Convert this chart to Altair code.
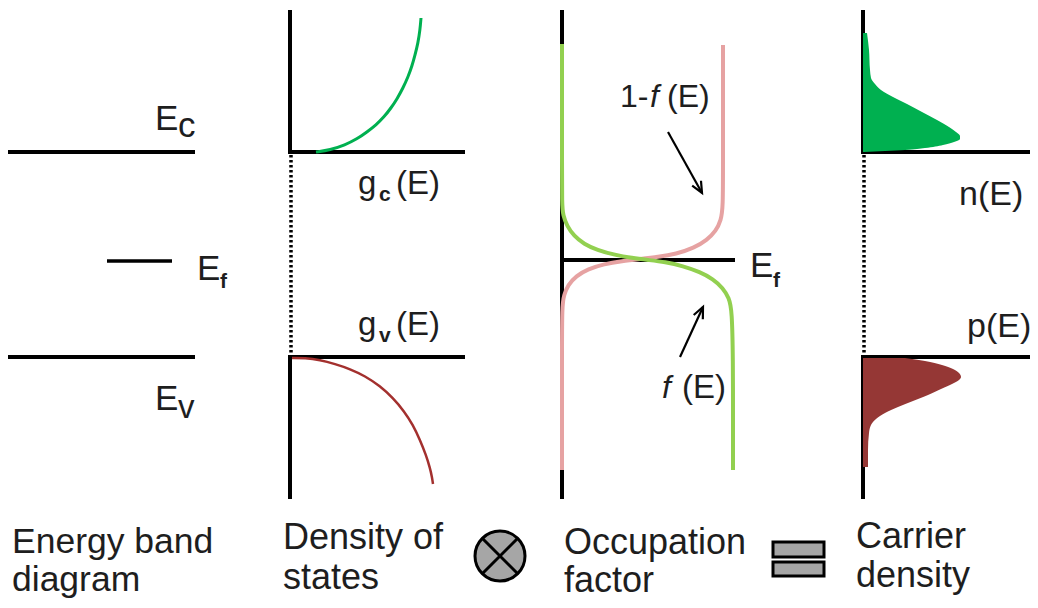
import altair as alt
import pandas as pd

# ---------------- data (diagram units; energy grows upward = smaller y) ----------------
# energy levels
E_C, E_F, E_V = 152, 260, 357

# black band / axis segments: x, y, x2, y2
seg_x = [10, 10, 290, 290, 290, 290, 562, 562, 863, 863, 863, 863]
seg_y = [152, 357, 12, 152, 357, 357, 12, 260, 12, 152, 357, 357]
seg_x2 = [193, 193, 290, 463, 463, 290, 562, 733, 863, 1035, 1035, 863]
seg_y2 = [152, 357, 152, 152, 357, 497, 497, 260, 152, 152, 357, 497]

# short Fermi level bar
ef_bar_x, ef_bar_x2, ef_bar_y = [107], [172], [261]

# dotted connectors
dot_x = [291, 864]
dot_y = [155, 155]
dot_y2 = [357, 357]

# density of states g_c(E)
gc_x = [316, 330, 345, 357, 367, 376, 384, 391, 397, 403, 408, 412, 415, 418, 420, 421]
gc_y = [152, 150, 145, 139, 132, 125, 117, 108, 99, 88, 77, 66, 55, 43, 30, 18]
# density of states g_v(E)
gv_x = [292, 305, 320, 335, 350, 365, 380, 393, 404, 413, 420, 426, 430, 432, 433]
gv_y = [358, 358, 360, 364, 369, 376, 386, 398, 411, 425, 440, 455, 468, 477, 484]

# occupation f(E)
f_x = [562, 562, 562, 562, 563, 567, 574, 584, 597, 615, 632, 648, 665, 683, 700, 713, 723, 729, 732, 733, 733, 733]
f_y = [44, 100, 160, 205, 215, 226, 236, 244, 250, 255, 258, 260, 262, 266, 272, 279, 288, 298, 310, 360, 420, 470]
# 1 - f(E)
h_x = [723, 723, 723, 723, 721, 716, 707, 694, 676, 658, 640, 622, 604, 588, 576, 568, 564, 562, 562, 562, 562]
h_y = [45, 100, 160, 208, 220, 231, 240, 248, 254, 257, 259, 261, 264, 269, 276, 285, 295, 305, 360, 420, 470]

# carrier densities
n_y = [33, 50, 70, 78, 84, 90, 97, 104, 112, 120, 127, 132, 136, 139, 142, 145, 148, 150, 151, 152]
n_x = [867, 869, 870, 871, 875, 881, 893, 907, 922, 937, 949, 956, 960, 960, 954, 943, 925, 905, 885, 864]
p_y = [358, 361, 365, 369, 373, 377, 380, 384, 389, 395, 401, 407, 413, 419, 425, 433, 450, 467]
p_x = [905, 925, 942, 953, 959, 961, 959, 952, 941, 928, 913, 898, 885, 876, 871, 869, 868, 868]

# arrows: tail -> head, head angle (deg)
arr_x = [668, 680]
arr_y = [132, 357]
arr_x2 = [702, 703]
arr_y2 = [193, 307]
arr_ang = [151, 25]

# labels
lab_text = ["E", "c", "E", "E", "v", "g", "(E)", "g", "(E)", "E", "1-", "(E)", "(E)",
            "n(E)", "p(E)",
            "Energy band", "diagram", "Density of", "states", "Occupation", "factor",
            "Carrier", "density"]
lab_x = [155, 178, 197, 155, 178, 358, 396, 358, 396, 750, 620, 667, 682,
         959, 967,
         12, 12, 283, 283, 564, 564, 856, 856]
lab_y = [130, 137, 280, 410, 418, 194, 194, 335, 335, 277, 107, 107, 398,
         205, 337,
         553, 591, 549, 589, 554, 592, 548, 587]
lab_s = [35, 35, 35, 35, 33, 33, 33, 33, 33, 35, 32, 32, 33,
         34, 34,
         35.5, 35.5, 36, 36, 36, 36, 36, 36]

sub_text = ["f", "c", "v", "f"]
sub_x = [220, 379, 379, 773]
sub_y = [288, 201, 342, 287]

ital_text = ["f", "f"]
ital_x = [650, 662]
ital_y = [107, 398]

# operator symbols
circ_x, circ_y = [500], [556]
eq_x = [773, 773]
eq_x2 = [824, 824]
eq_y = [542, 562]
eq_y2 = [557, 576]

# ---------------- chart ----------------
FONT = "Liberation Sans"
TXT = "#1e1e1e"
xs = alt.Scale(domain=[8, 1030], nice=False, zero=False)
ys = alt.Scale(domain=[8, 600], nice=False, zero=False, reverse=True)


def X(f="x"):
    return alt.X(f"{f}:Q", scale=xs, axis=None)


def Y(f="y"):
    return alt.Y(f"{f}:Q", scale=ys, axis=None)


segs = pd.DataFrame({"x": seg_x, "y": seg_y, "x2": seg_x2, "y2": seg_y2})
seg_layer = alt.Chart(segs).mark_rule(color="black", strokeWidth=4, strokeCap="square").encode(
    x=X(), y=Y(), x2="x2:Q", y2="y2:Q")

efb = pd.DataFrame({"x": ef_bar_x, "x2": ef_bar_x2, "y": ef_bar_y})
efb_layer = alt.Chart(efb).mark_rule(color="black", strokeWidth=3.5).encode(
    x=X(), x2="x2:Q", y=Y())

dots = pd.DataFrame({"x": dot_x, "y": dot_y, "y2": dot_y2})
dot_layer = alt.Chart(dots).mark_rule(color="black", strokeWidth=3.5, strokeDash=[2.6, 2.4]).encode(
    x=X(), y=Y(), y2="y2:Q")


def curve(xv, yv, color, width):
    d = pd.DataFrame({"x": xv, "y": yv, "i": list(range(len(xv)))})
    return alt.Chart(d).mark_line(color=color, strokeWidth=width, interpolate="basis").encode(
        x=X(), y=Y(), order="i:Q")


def fill(xv, yv, base, color):
    d = pd.DataFrame({"x": xv, "y": yv, "x0": [base] * len(xv)})
    return alt.Chart(d).mark_area(color=color, orient="horizontal", interpolate="monotone", opacity=1).encode(
        y=Y(), x=X(), x2="x0:Q")


arrows = pd.DataFrame({"x": arr_x, "y": arr_y, "x2": arr_x2, "y2": arr_y2, "a": arr_ang})
arrow_line = alt.Chart(arrows).mark_rule(color="black", strokeWidth=2.2).encode(
    x=X(), y=Y(), x2="x2:Q", y2="y2:Q")
arrow_head = alt.Chart(arrows).mark_point(
    shape="M-0.45,1L0,0L0.45,1", filled=False, color="black", strokeWidth=2.2, size=500, opacity=1
).encode(x=X("x2"), y=Y("y2"), angle=alt.Angle("a:Q", scale=None))

labs = pd.DataFrame({"t": lab_text, "x": lab_x, "y": lab_y, "s": lab_s})
lab_layer = alt.Chart(labs).mark_text(align="left", baseline="alphabetic", font=FONT, color=TXT).encode(
    x=X(), y=Y(), text="t:N", size=alt.Size("s:Q", scale=None))

subs = pd.DataFrame({"t": sub_text, "x": sub_x, "y": sub_y})
sub_layer = alt.Chart(subs).mark_text(align="left", baseline="alphabetic", font=FONT, color=TXT,
                                      fontSize=21, fontWeight="bold").encode(x=X(), y=Y(), text="t:N")

itals = pd.DataFrame({"t": ital_text, "x": ital_x, "y": ital_y})
ital_layer = alt.Chart(itals).mark_text(align="left", baseline="alphabetic", font=FONT, color=TXT,
                                        fontSize=32, fontStyle="italic").encode(x=X(), y=Y(), text="t:N")

circ = pd.DataFrame({"x": circ_x, "y": circ_y})
circ_layer = alt.Chart(circ).mark_point(shape="circle", size=2500, filled=True, fill="#a6a6a6",
                                        stroke="black", strokeWidth=3, opacity=1).encode(x=X(), y=Y())
cross_layer = alt.Chart(circ).mark_point(shape="M-0.71,-0.71L0.71,0.71M-0.71,0.71L0.71,-0.71",
                                         size=2500, filled=False, color="black", strokeWidth=3,
                                         opacity=1).encode(x=X(), y=Y())

eq = pd.DataFrame({"x": eq_x, "x2": eq_x2, "y": eq_y, "y2": eq_y2})
eq_layer = alt.Chart(eq).mark_rect(fill="#a6a6a6", stroke="black", strokeWidth=3).encode(
    x=X(), x2="x2:Q", y=Y(), y2="y2:Q")

chart = alt.layer(
    seg_layer, efb_layer, dot_layer,
    curve(gc_x, gc_y, "#00b050", 3),
    curve(gv_x, gv_y, "#a3302e", 2.5),
    curve(h_x, h_y, "#e6a2a2", 4),
    curve(f_x, f_y, "#92d050", 4),
    fill(n_x, n_y, 863, "#00b050"),
    fill(p_x, p_y, 863, "#953735"),
    arrow_line, arrow_head,
    lab_layer, sub_layer, ital_layer,
    circ_layer, cross_layer, eq_layer,
).properties(width=1022, height=592, padding=0, autosize="none", background="white"
).configure_view(stroke=None)

chart.save("out.html", embed_options={"renderer": "svg", "actions": False})
